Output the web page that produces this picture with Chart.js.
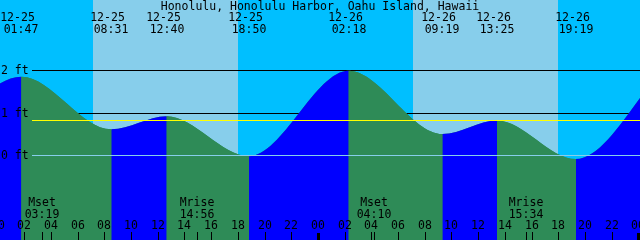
<!DOCTYPE html>
<html><head><meta charset="utf-8">
<script src="https://cdn.jsdelivr.net/npm/chart.js@4/dist/chart.umd.min.js"></script>
<style>html,body{margin:0;padding:0;background:#00bfff}#wrap{width:640px;height:240px}</style>
</head><body>
<div id="wrap"><canvas id="tide" width="640" height="240"></canvas></div>
<script>
// Honolulu tide chart, 2 days from 12-25 00:00 (x in hours)
const title = 'Honolulu, Honolulu Harbor, Oahu Island, Hawaii';
const tideDates = ['12-25','12-25','12-25','12-25','12-26','12-26','12-26','12-26'];
const tideTimes = ['01:47','08:31','12:40','18:50','02:18','09:19','13:25','19:19'];
const tideHours = [1.783, 8.517, 12.667, 18.833, 26.3, 33.317, 37.417, 43.317];
const tideFeet  = [1.85, 0.61, 0.92, -0.02, 1.99, 0.50, 0.82, -0.09];
// extremes just outside the window, so the curve runs to both edges
const edgeHours = [-5.6, 50.0];
const edgeFeet  = [-0.05, 2.08];
const sunrise = [7.12, 31.09];
const sunset  = [17.98, 41.97];
const moonNames = ['Mset','Mrise','Mset','Mrise'];
const moonTimes = ['03:19','14:56','04:10','15:34'];
const moonHours = [3.317, 14.933, 28.167, 39.567];
const hourTicks = [0,2,4,6,8,10,12,14,16,18,20,22,24,26,28,30,32,34,36,38,40,42,44,46,48];
const ftLevels = [2, 1, 0];
const meanLevel = 0.82;

const NIGHT = '#00bfff', DAY = '#87ceeb', RISE = '#0000ff', FALL = '#2e8b57';
const FONT = '11.5px "DejaVu Sans Mono", monospace';

const pts = [{x: edgeHours[0], y: edgeFeet[0]}]
  .concat(tideHours.map((h, i) => ({x: h, y: tideFeet[i]})))
  .concat([{x: edgeHours[1], y: edgeFeet[1]}]);

const px = (c, v) => Math.round(c.scales.x.getPixelForValue(v));
const py = (c, v) => Math.round(c.scales.y.getPixelForValue(v));

function hline(ctx, y, x0, x1, col) {
  ctx.strokeStyle = col; ctx.lineWidth = 1;
  ctx.beginPath(); ctx.moveTo(x0, y + 0.5); ctx.lineTo(x1, y + 0.5); ctx.stroke();
}

const backdrop = {
  id: 'backdrop',
  beforeDatasetsDraw(c) {
    const ctx = c.ctx, W = c.width, H = c.height;
    ctx.save();
    ctx.fillStyle = NIGHT; ctx.fillRect(0, 0, W, H);
    ctx.fillStyle = DAY;
    sunrise.forEach((s, i) => {
      const a = px(c, s), b = px(c, sunset[i]);
      ctx.fillRect(a, 0, b - a, H);
    });
    // 2 ft / 1 ft lines sit behind the water
    hline(ctx, py(c, 2), 32, W, '#000');
    hline(ctx, py(c, 1), 32, W, '#000');
    ctx.restore();
  },
  afterDatasetsDraw(c) {
    const ctx = c.ctx, W = c.width, H = c.height;
    ctx.save();
    hline(ctx, py(c, 0), 32, W, DAY);
    hline(ctx, py(c, meanLevel), 32, W, '#ffff00');

    ctx.fillStyle = '#000';
    ctx.font = FONT;
    ctx.textBaseline = 'alphabetic';
    ctx.textAlign = 'left';
    ftLevels.forEach(f => ctx.fillText(f + ' ft', 1, py(c, f) + 4));

    ctx.textAlign = 'center';
    ctx.fillText(title, 320, 10);
    tideHours.forEach((h, i) => {
      const x = px(c, h);
      ctx.fillText(tideDates[i], x - 3.5, 21);
      ctx.fillText(tideTimes[i], x, 33);
    });

    moonHours.forEach((h, i) => {
      const x = px(c, h);
      ctx.fillText(moonNames[i], x, 206);
      ctx.fillText(moonTimes[i], x, 218);
      ctx.fillRect(x, 232, 1, 8);
    });

    hourTicks.forEach(h => {
      const x = px(c, h);
      ctx.fillText(String(h % 24).padStart(2, '0'), x, 229);
      if (h % 24 === 0) ctx.fillRect(x - 1, 233, 3, 7);
      else ctx.fillRect(x, 232, 1, 8);
    });
    ctx.restore();
  }
};

const water = {
  data: pts,
  borderWidth: 0,
  pointRadius: 0,
  pointHoverRadius: 0,
  pointBorderWidth: 0,
  fill: 'start',
  cubicInterpolationMode: 'monotone'
};

new Chart(document.getElementById('tide'), {
  type: 'line',
  data: {
    datasets: [
      // rising = blue, falling = green
      Object.assign({}, water, {
        order: 1,
        backgroundColor: FALL,
        segment: { backgroundColor: s => s.p1.parsed.y > s.p0.parsed.y ? RISE : FALL }
      }),
      // plain underlay so the colour seams don't show the sky through
      Object.assign({}, water, { order: 2, backgroundColor: FALL })
    ]
  },
  options: {
    responsive: false, animation: false, events: [],
    layout: { padding: 0, autoPadding: false },
    elements: { line: { capBezierPoints: false } },
    plugins: { legend: { display: false }, tooltip: { enabled: false } },
    scales: {
      x: { type: 'linear', min: 0.18, max: 48.12, display: false },
      y: { min: -1.993, max: 3.654, display: false }
    }
  },
  plugins: [backdrop]
});
</script>
</body></html>
